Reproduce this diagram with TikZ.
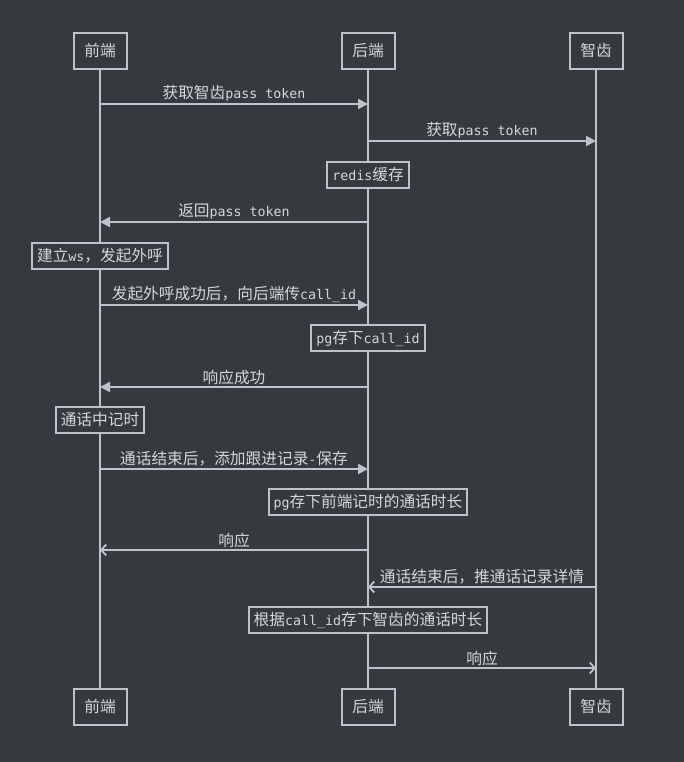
\documentclass[tikz,border=0pt]{standalone}
\usepackage{fontspec}
\setmainfont{DejaVu Sans Mono}
\newfontfamily\cjk[Scale=1.18]{Noto Sans CJK SC}
\usetikzlibrary{arrows.meta}
\definecolor{bggray}{RGB}{54,58,63}
\definecolor{linegray}{RGB}{190,194,202}
\definecolor{textgray}{RGB}{212,214,218}

\begin{document}
\begin{tikzpicture}
[x=1pt,y=-1pt,font=\fontsize{13.3}{16}\selectfont,text=textgray,
  actordecorate/.style={draw=linegray,line width=2pt,fill=bggray,
    minimum width=53pt,minimum height=36pt,inner sep=0pt},
  notedecorate/.style={draw=linegray,line width=2pt,fill=bggray,
    minimum height=26pt,inner xsep=5pt,inner ysep=0pt},
  linedecorate/.style={-,draw=linegray,line width=2pt},
  calldecorate/.style={linedecorate,-{Triangle[length=10pt,width=10pt]}},
  replydecorate/.style={linedecorate,
    -{Straight Barb[length=5pt,width=11pt,line width=1.8pt]}},
  labeldecorate/.style={above,inner sep=1.5pt}]
\fill[bggray] (0,0) rectangle (684,762);
\useasboundingbox (0,0) rectangle (684,762);
%% actors, top and bottom
\foreach \nodename/\x/\actor in {fe/100/前端, be/368/后端, zc/596/智齿} {
  \node (\nodename) at (\x,51) [actordecorate] {\cjk \actor};
  \node (\nodename-end) at (\x,707) [actordecorate] {\cjk \actor};
}
%% lifelines
\path
\foreach \nodename in {fe, be, zc} {
  (\nodename) edge[linedecorate] (\nodename-end)
};
%% message end points
\foreach \msg/\src/\dst/\y in {m1/fe/be/104, m2/be/zc/141, m3/be/fe/222,
  m4/fe/be/305, m5/be/fe/387, m6/fe/be/469, m7/be/fe/550, m8/zc/be/587,
  m9/be/zc/668} {
  \coordinate (\msg s) at (\src |- 0,\y);
  \coordinate (\msg e) at (\dst |- 0,\y);
}
%% messages
\draw[calldecorate] (m1s) -- node[labeldecorate] {{\cjk 获取智齿}pass token} (m1e);
\draw[calldecorate] (m2s) -- node[labeldecorate] {{\cjk 获取}pass token} (m2e);
\draw[calldecorate] (m3s) -- node[labeldecorate] {{\cjk 返回}pass token} (m3e);
\draw[calldecorate] (m4s) -- node[labeldecorate] {{\cjk 发起外呼成功后，向后端传}call\_id} (m4e);
\draw[calldecorate] (m5s) -- node[labeldecorate] {\cjk 响应成功} (m5e);
\draw[calldecorate] (m6s) -- node[labeldecorate] {{\cjk 通话结束后，添加跟进记录}-{\cjk 保存}} (m6e);
\draw[replydecorate] (m7s) -- node[labeldecorate] {\cjk 响应} (m7e);
\draw[replydecorate] (m8s) -- node[labeldecorate] {\cjk 通话结束后，推通话记录详情} (m8e);
\draw[replydecorate] (m9s) -- node[labeldecorate] {\cjk 响应} (m9e);
%% notes on the lifelines
\node (redis) at (be |- 0,175) [notedecorate] {redis{\cjk 缓存}};
\node (wscall) at (fe |- 0,256) [notedecorate] {{\cjk 建立}ws{\cjk ，发起外呼}};
\node (pgcall) at (be |- 0,338) [notedecorate] {pg{\cjk 存下}call\_id};
\node (timing) at (fe |- 0,420) [notedecorate] {\cjk 通话中记时};
\node (pgtime) at (be |- 0,502) [notedecorate] {pg{\cjk 存下前端记时的通话时长}};
\node (zctime) at (be |- 0,620) [notedecorate] {{\cjk 根据}call\_id{\cjk 存下智齿的通话时长}};
\end{tikzpicture}
\end{document}
